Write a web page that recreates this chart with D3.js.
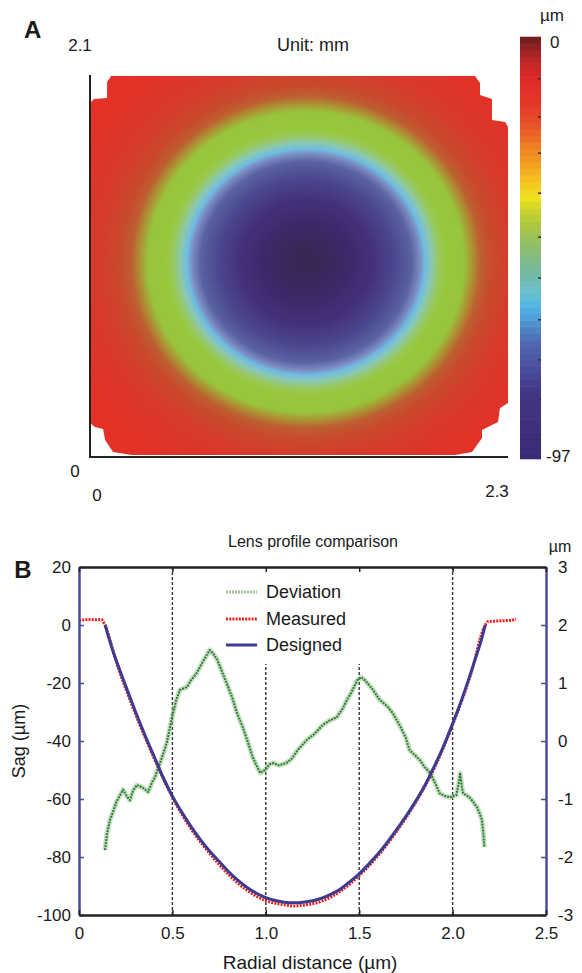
<!DOCTYPE html>
<html>
<head>
<meta charset="utf-8">
<script src="https://cdn.jsdelivr.net/npm/d3@7"></script>
<style>
  html, body { margin: 0; padding: 0; background: #fff; }
  text { font-family: "Liberation Sans", Arial, Helvetica, sans-serif; fill: #1a1a1a; }
</style>
</head>
<body>
<svg id="chart" width="582" height="973"></svg>
<script>
// ---------------- DATA ----------------
// Panel A: surface map (unit mm), depth colour scale in µm
const mapXRange = [0, 2.3];
const mapYRange = [0, 2.1];
const mapCenter = [1.189, 1.072];
const mapAspect = 0.95;
// radial colour profile of the rendered surface (radius in mm)
const ringRadius = [0, 0.22, 0.36, 0.49, 0.58, 0.625, 0.655, 0.69, 0.73, 0.77, 0.87, 0.91, 0.96, 1.02, 1.15, 1.37, 1.7];
const ringColor  = ["#34284e", "#3a2a68", "#44307a", "#4c4890", "#5a62a2", "#7a8ac0", "#70bce2", "#8ac8b2", "#98c862", "#98c83e", "#98c43c", "#aa9834", "#bc6030", "#c84a2e", "#d63a2a", "#e23228", "#e53028"];
// outline of measured area (mm)
const mapOutline = [[0,1.946],[0.022,1.968],[0.094,1.974],[0.094,2.062],[0.116,2.095],[2.119,2.095],[2.146,2.056],[2.146,1.99],[2.212,1.968],[2.212,1.853],[2.284,1.842],[2.3,1.814],[2.3,0.297],[2.256,0.269],[2.245,0.192],[2.157,0.148],[2.157,0.104],[2.102,0.027],[2.009,0.011],[0.231,0.011],[0.127,0.027],[0.083,0.093],[0.072,0.154],[0.027,0.165],[0,0.187]];
// colour bar
const cbarDomain = [-97, 0];
const cbarStopValue = [-97, -81.5, -75.7, -69.8, -66, -62, -58.2, -54.3, -50.4, -46.6, -42.7, -39.8, -36.9, -33, -29.1, -25.2, -21.3, -16.5, -9.7, -4.9, 0];
const cbarStopColor = ["#3a2a76", "#433684", "#4a52a0", "#4f6ab2", "#4f90d0", "#52b6e6", "#6cc0c8", "#72b8a2", "#82bb80", "#98c15e", "#b0c93c", "#cad42a", "#eee21c", "#f6c020", "#f2a020", "#ee8022", "#e85a28", "#e63c28", "#e02a28", "#b82626", "#6a1e1e"];
const cbarTicks = [-9.6, -18.4, -26.7, -35.9, -46, -55.4, -65, -74.2, -83.4, -92.6];

// Panel B: lens profile comparison
const xTicksB = [0, 0.5, 1.0, 1.5, 2.0, 2.5];
const yTicksL = [20, 0, -20, -40, -60, -80, -100];
const yTicksR = [3, 2, 1, 0, -1, -2, -3];
const guideX = [0.5, 1.0, 1.5, 2.0];

const designedX = [0.14,0.16,0.18,0.2,0.25,0.3,0.35,0.4,0.45,0.5,0.55,0.6,0.65,0.7,0.75,0.8,0.85,0.9,0.95,1.0,1.05,1.1,1.155,1.2,1.25,1.3,1.35,1.4,1.45,1.5,1.55,1.6,1.65,1.7,1.75,1.8,1.85,1.9,1.95,2.0,2.05,2.1,2.13,2.15,2.175];
const designedY = [0,-4.5,-8.6,-12.3,-21,-29.5,-37.5,-45,-52.5,-59,-64.5,-69.5,-74,-78,-81.5,-85,-88,-90.5,-92.5,-94,-95,-95.6,-95.8,-95.6,-95.1,-94.2,-92.8,-91,-88.5,-85.8,-82.5,-79,-75,-70.6,-66,-61,-55.5,-49,-42,-34,-25.5,-16,-10,-6,0];

const measuredX = [0,0.03,0.06,0.09,0.12,0.135,0.2,0.3,0.4,0.5,0.6,0.7,0.8,0.9,1.0,1.1,1.15,1.2,1.3,1.4,1.5,1.6,1.7,1.8,1.9,2.0,2.1,2.17,2.19,2.22,2.25,2.28,2.31,2.34];
const measuredY = [1.6,1.8,1.9,1.8,1.9,0.5,-12.8,-30.3,-45.6,-59.4,-70.3,-78.8,-86,-91.5,-95,-96.5,-96.9,-96.6,-95.2,-91.8,-86.4,-79.6,-71.2,-61.4,-49.6,-34.4,-16.4,-0.6,1.2,1.3,1.4,1.5,1.6,2.0];

const deviationX = [0.139,0.15,0.166,0.18,0.2,0.236,0.255,0.273,0.29,0.31,0.34,0.37,0.39,0.407,0.434,0.47,0.498,0.52,0.54,0.578,0.6,0.63,0.66,0.7,0.72,0.74,0.765,0.79,0.82,0.846,0.875,0.9,0.93,0.95,0.97,0.996,1.02,1.04,1.07,1.11,1.14,1.17,1.22,1.26,1.306,1.34,1.38,1.41,1.435,1.46,1.49,1.51,1.53,1.57,1.61,1.65,1.68,1.72,1.75,1.77,1.8,1.825,1.85,1.88,1.91,1.93,1.96,1.986,2.02,2.035,2.04,2.05,2.056,2.09,2.11,2.13,2.145,2.157,2.165,2.17];
const deviationY = [-1.88,-1.6,-1.36,-1.24,-1.05,-0.84,-0.95,-1.02,-0.85,-0.76,-0.8,-0.88,-0.72,-0.62,-0.38,-0.03,0.41,0.7,0.88,0.93,1.05,1.17,1.35,1.57,1.5,1.4,1.2,1.0,0.75,0.48,0.25,0.02,-0.28,-0.42,-0.55,-0.5,-0.4,-0.38,-0.42,-0.38,-0.3,-0.16,0.02,0.12,0.28,0.35,0.41,0.55,0.71,0.85,1.05,1.1,1.05,0.9,0.71,0.6,0.48,0.25,0.05,-0.16,-0.25,-0.33,-0.45,-0.55,-0.75,-0.9,-0.95,-0.97,-0.93,-0.7,-0.55,-0.8,-0.9,-0.97,-1.05,-1.14,-1.25,-1.36,-1.6,-1.83];

const legendItems = ["Deviation", "Measured", "Designed"];

// ---------------- DRAW ----------------
const svg = d3.select("#chart");
const FONT = 17;

// ===== Panel A =====
const xA = d3.scaleLinear().domain(mapXRange).range([90, 508]);
const yA = d3.scaleLinear().domain(mapYRange).range([457, 75]);
const ringScale = d3.scaleLinear().domain(ringRadius).range(ringColor).interpolate(d3.interpolateRgb).clamp(true);

const x0 = Math.round(xA(0)), x1 = Math.round(xA(2.3));
const y0 = Math.round(yA(2.1)), y1 = Math.round(yA(0));
const cw = x1 - x0, ch = y1 - y0;
const canvas = document.createElement("canvas");
canvas.width = cw; canvas.height = ch;
const ctx = canvas.getContext("2d");
const img = ctx.createImageData(cw, ch);
for (let j = 0; j < ch; j++) {
  for (let i = 0; i < cw; i++) {
    const mx = xA.invert(x0 + i + 0.5), my = yA.invert(y0 + j + 0.5);
    const dx = mx - mapCenter[0], dy = (my - mapCenter[1]) / mapAspect;
    const c = d3.rgb(ringScale(Math.sqrt(dx * dx + dy * dy)));
    const k = (j * cw + i) * 4;
    img.data[k] = c.r; img.data[k + 1] = c.g; img.data[k + 2] = c.b; img.data[k + 3] = 255;
  }
}
ctx.putImageData(img, 0, 0);

const defs = svg.append("defs");
defs.append("clipPath").attr("id", "mapClip")
  .append("path")
  .attr("d", d3.line().x(d => xA(d[0])).y(d => yA(d[1]))(mapOutline) + "Z");

svg.append("image")
  .attr("x", x0).attr("y", y0).attr("width", cw).attr("height", ch)
  .attr("preserveAspectRatio", "none")
  .attr("href", canvas.toDataURL())
  .attr("clip-path", "url(#mapClip)");

// axes lines of the map
svg.append("line").attr("x1", xA(0)).attr("x2", xA(0)).attr("y1", yA(2.1)).attr("y2", yA(0) + 1)
  .attr("stroke", "#222").attr("stroke-width", 2);
svg.append("line").attr("x1", xA(0)).attr("x2", xA(2.3)).attr("y1", yA(0)).attr("y2", yA(0))
  .attr("stroke", "#222").attr("stroke-width", 2);

svg.append("text").attr("x", 24).attr("y", 38).attr("font-size", 24).attr("font-weight", "bold").text("A");
svg.append("text").attr("x", 80).attr("y", 51).attr("text-anchor", "middle").attr("font-size", FONT).text(mapYRange[1]);
svg.append("text").attr("x", 75).attr("y", 477).attr("text-anchor", "middle").attr("font-size", FONT).text(mapYRange[0]);
svg.append("text").attr("x", 97).attr("y", 501).attr("text-anchor", "middle").attr("font-size", FONT).text(mapXRange[0]);
svg.append("text").attr("x", 497).attr("y", 497).attr("text-anchor", "middle").attr("font-size", FONT).text(mapXRange[1]);
svg.append("text").attr("x", 313).attr("y", 51).attr("text-anchor", "middle").attr("font-size", 18).text("Unit: mm");

// colour bar
const cbY = d3.scaleLinear().domain(cbarDomain).range([459, 37]);
const cbColor = d3.scaleLinear().domain(cbarStopValue).range(cbarStopColor).interpolate(d3.interpolateRgb);
const nBands = 64;
const bandVals = d3.range(nBands).map(i => cbarDomain[0] + (i + 0.5) * (cbarDomain[1] - cbarDomain[0]) / nBands);
const bandH = (cbY(cbarDomain[0]) - cbY(cbarDomain[1])) / nBands;
svg.append("g").selectAll("rect").data(bandVals).join("rect")
  .attr("x", 520).attr("width", 21)
  .attr("y", d => cbY(d) - bandH / 2 - 0.3).attr("height", bandH + 0.6)
  .attr("fill", d => cbColor(d));
svg.append("g").selectAll("line").data(cbarTicks).join("line")
  .attr("x1", 538).attr("x2", 541).attr("y1", d => cbY(d)).attr("y2", d => cbY(d))
  .attr("stroke", "#333").attr("stroke-width", 1.5);
svg.append("text").attr("x", 552).attr("y", 21).attr("text-anchor", "middle").attr("font-size", 17).text("µm");
svg.append("text").attr("x", 550).attr("y", cbY(0) + 11).attr("font-size", FONT).text("0");
svg.append("text").attr("x", 546).attr("y", cbY(-97) + 3).attr("font-size", FONT).text("-97");

// ===== Panel B =====
const xB = d3.scaleLinear().domain([0, 2.5]).range([79, 546]);
const yB = d3.scaleLinear().domain([-100, 20]).range([915, 567]);
const yR = d3.scaleLinear().domain([-3, 3]).range([915, 567]);
const BLUE = "#4b4b98";

// guide dashed lines
svg.append("g").selectAll("line").data(guideX).join("line")
  .attr("x1", d => xB(d)).attr("x2", d => xB(d))
  .attr("y1", yB(20)).attr("y2", yB(-100))
  .attr("stroke", "#333").attr("stroke-width", 1.4).attr("stroke-dasharray", "3,2");

// legend background (covers guides behind legend)
svg.append("rect").attr("x", 214).attr("y", 569).attr("width", 190).attr("height", 95).attr("fill", "#fff");

// deviation (right axis)
const devPts = deviationX.map((x, i) => [x, deviationY[i]]);
const devLine = d3.line().x(d => xB(d[0])).y(d => yR(d[1]));
svg.append("path").attr("d", devLine(devPts)).attr("fill", "none")
  .attr("stroke", "#8fbf8a").attr("stroke-width", 5).attr("stroke-opacity", 0.5).attr("stroke-linejoin", "round");
svg.append("path").attr("d", devLine(devPts)).attr("fill", "none")
  .attr("stroke", "#2f7d32").attr("stroke-width", 2).attr("stroke-dasharray", "2,1").attr("stroke-linejoin", "round");

// measured
const line = d3.line().x(d => xB(d[0])).y(d => yB(d[1])).curve(d3.curveMonotoneX);
svg.append("path").attr("d", line(measuredX.map((x, i) => [x, measuredY[i]])))
  .attr("fill", "none").attr("stroke", "#e8231f").attr("stroke-width", 3).attr("stroke-dasharray", "2,1.2");
// designed
svg.append("path").attr("d", line(designedX.map((x, i) => [x, designedY[i]])))
  .attr("fill", "none").attr("stroke", "#3b3b8f").attr("stroke-width", 3);

// axes
function styleAxis(g, color, width) {
  g.select(".domain").attr("stroke", color).attr("stroke-width", width);
  g.selectAll(".tick line").attr("stroke", color).attr("stroke-width", 1.5);
  g.selectAll(".tick text").attr("font-size", FONT).attr("fill", "#1a1a1a")
    .attr("font-family", "Liberation Sans, Arial, sans-serif");
}
const gl = svg.append("g").attr("transform", `translate(${xB(0)},0)`)
  .call(d3.axisLeft(yB).tickValues(yTicksL).tickSize(-5).tickSizeOuter(0).tickPadding(8).tickFormat(d => String(d)));
styleAxis(gl, BLUE, 2.5);
const gr = svg.append("g").attr("transform", `translate(${xB(2.5)},0)`)
  .call(d3.axisRight(yR).tickValues(yTicksR).tickSize(-5).tickSizeOuter(0).tickPadding(12).tickFormat(d => String(d)));
styleAxis(gr, BLUE, 2.5);
const gt = svg.append("g").attr("transform", `translate(0,${yB(20)})`)
  .call(d3.axisTop(xB).tickValues(xTicksB).tickSize(-5).tickSizeOuter(0).tickFormat(""));
styleAxis(gt, "#222", 2.5);
const gb = svg.append("g").attr("transform", `translate(0,${yB(-100)})`)
  .call(d3.axisBottom(xB).tickValues(xTicksB).tickSize(-5).tickSizeOuter(0).tickPadding(12)
    .tickFormat(d => d === 0 ? "0" : d3.format(".1f")(d)));
styleAxis(gb, "#222", 2.5);

// titles
svg.append("text").attr("x", 23).attr("y", 578).attr("text-anchor", "middle").attr("font-size", 24).attr("font-weight", "bold").text("B");
svg.append("text").attr("x", 313).attr("y", 547).attr("text-anchor", "middle").attr("font-size", 16).text("Lens profile comparison");
svg.append("text").attr("x", 560).attr("y", 552).attr("text-anchor", "middle").attr("font-size", 16).text("µm");
svg.append("text").attr("transform", `translate(25,${(yB(20) + yB(-100)) / 2}) rotate(-90)`)
  .attr("text-anchor", "middle").attr("font-size", 18).text("Sag (µm)");
svg.append("text").attr("x", 310).attr("y", 969).attr("text-anchor", "middle").attr("font-size", 19).text("Radial distance (µm)");

// legend
const legY = [592, 619, 645];
const lg = svg.append("g");
legendItems.forEach((name, i) => {
  const y = legY[i];
  const s = lg.append("line").attr("x1", 226).attr("x2", 257).attr("y1", y).attr("y2", y);
  if (i === 0) s.attr("stroke", "#a9bfa3").attr("stroke-width", 3).attr("stroke-dasharray", "2,1");
  if (i === 1) s.attr("stroke", "#e8231f").attr("stroke-width", 3).attr("stroke-dasharray", "2,1.2");
  if (i === 2) s.attr("stroke", "#3b3b8f").attr("stroke-width", 3);
  lg.append("text").attr("x", 266).attr("y", y + 6).attr("font-size", 18).text(name);
});
</script>
</body>
</html>
